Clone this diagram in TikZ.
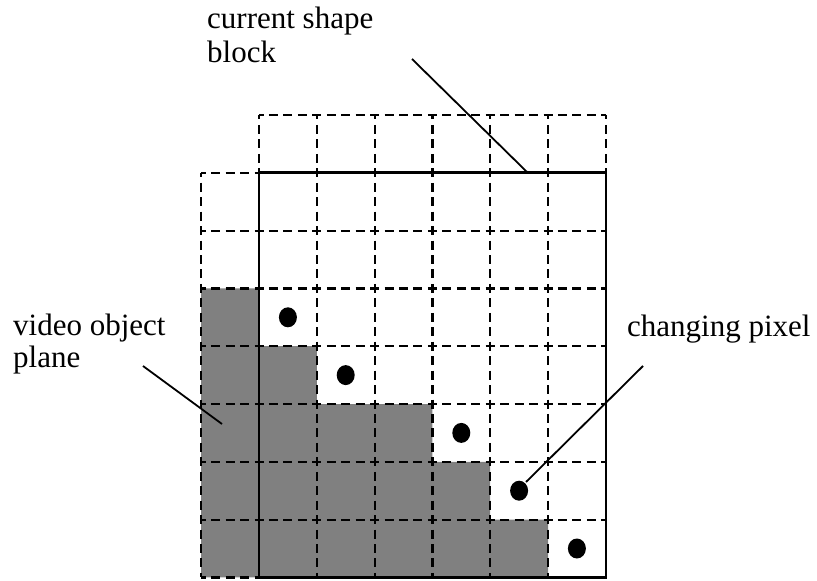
\documentclass[tikz,border=0pt]{standalone}
\usepackage{fontspec}
\setmainfont{Liberation Serif}
\begin{document}
\begin{tikzpicture}[x=1bp,y=-1bp,
  lbl/.style={inner sep=0pt,anchor=base west,font=\fontsize{31bp}{33bp}\selectfont},
  gridline/.style={line width=2.2bp,dash pattern=on 9bp off 5.45bp,dash phase=4.5bp},
  boxline/.style={line width=2.6bp},
  pointer/.style={line width=1.8bp},
  pix/.style={fill=black}]
\useasboundingbox (0,0) rectangle (817,581);
\def\s{57.8}
\def\xa{201.2}\def\ya{115}
% gray fill
\fill[fill=black!50]
  (\xa,\ya+3*\s) -- (\xa+\s,\ya+3*\s) -- (\xa+\s,\ya+4*\s) -- (\xa+2*\s,\ya+4*\s)
  -- (\xa+2*\s,\ya+5*\s) -- (\xa+4*\s,\ya+5*\s) -- (\xa+4*\s,\ya+6*\s)
  -- (\xa+5*\s,\ya+6*\s) -- (\xa+5*\s,\ya+7*\s) -- (\xa+6*\s,\ya+7*\s)
  -- (\xa+6*\s,\ya+8*\s) -- (\xa,\ya+8*\s) -- cycle;
% dashed grid
\draw[gridline] (\xa+\s,\ya) -- (\xa+7*\s,\ya);
\foreach \j in {1,...,7} \draw[gridline] (\xa,\ya+\j*\s) -- (\xa+7*\s,\ya+\j*\s);
\draw[gridline] (\xa,\ya+8*\s) -- (\xa+\s,\ya+8*\s);
\draw[gridline] (\xa,\ya+\s) -- (\xa,\ya+8*\s);
\foreach \i in {1,...,6} \draw[gridline] (\xa+\i*\s,\ya) -- (\xa+\i*\s,\ya+8*\s);
\draw[gridline] (\xa+7*\s,\ya) -- (\xa+7*\s,\ya+\s);
% solid box
\draw[boxline] (\xa+\s,\ya+\s) rectangle (\xa+7*\s,\ya+8*\s);
% changing pixels
\fill[pix] (\xa+1.5*\s,\ya+3.5*\s) ellipse [x radius=9,y radius=10];
\fill[pix] (\xa+2.5*\s,\ya+4.5*\s) ellipse [x radius=9,y radius=10];
\fill[pix] (\xa+4.5*\s,\ya+5.5*\s) ellipse [x radius=9,y radius=10];
\fill[pix] (\xa+5.5*\s,\ya+6.5*\s) ellipse [x radius=9,y radius=10];
\fill[pix] (\xa+6.5*\s,\ya+7.5*\s) ellipse [x radius=9,y radius=10];
% labels
\node[lbl] (csb1) at (207,29) {current shape};
\node[lbl] (csb2) at (207,63) {block};
\node[lbl] (vop1) at (13,335) {video object};
\node[lbl] (vop2) at (13,367) {plane};
\node[lbl] (chp) at (627,336) {changing pixel};
% pointers
\coordinate (csbS) at (412,59);
\coordinate (csbE) at (528,173);
\coordinate (vopS) at (143,366);
\coordinate (vopE) at (222,424);
\coordinate (chpS) at (643,366);
\coordinate (chpE) at (526,482);
\draw[pointer] (csbS) -- (csbE);
\draw[pointer] (vopS) -- (vopE);
\draw[pointer] (chpS) -- (chpE);
\end{tikzpicture}
\end{document}
